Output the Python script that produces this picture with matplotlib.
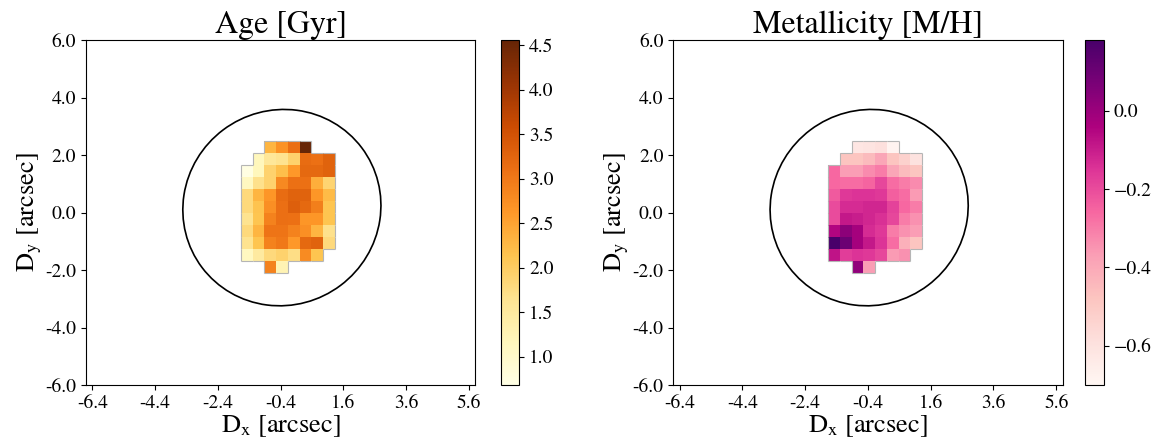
import numpy as np
import matplotlib
matplotlib.use('Agg')
import matplotlib.pyplot as plt
from matplotlib.patches import Ellipse
from matplotlib.collections import LineCollection

plt.rcParams['font.family'] = 'STIXGeneral'
plt.rcParams['mathtext.fontset'] = 'stix'

nan = np.nan

# age map [Gyr], rows from top to bottom
age = np.array([
    [nan, nan, 2.31, 2.70, 3.12, 4.56, nan, nan],
    [nan, 1.18, 1.57, 1.65, 1.92, 3.16, 3.09, 3.28],
    [0.72, 1.18, 1.92, 2.19, 2.62, 3.20, 3.20, 3.28],
    [1.11, 1.69, 1.92, 2.81, 3.09, 3.09, 2.39, 1.88],
    [1.81, 2.31, 2.66, 3.16, 3.28, 3.28, 2.66, 2.23],
    [1.81, 2.15, 2.74, 3.12, 3.32, 3.20, 2.93, 2.12],
    [1.65, 2.12, 2.89, 3.12, 3.09, 2.66, 2.66, 2.12],
    [1.81, 2.31, 3.05, 3.05, 2.89, 2.74, 2.31, 1.69],
    [1.65, 2.12, 2.89, 3.01, 2.62, 3.20, 3.28, 1.81],
    [1.11, 1.49, 1.81, 1.92, 1.73, 2.78, 2.12, nan],
    [nan, nan, 2.89, 1.26, nan, nan, nan, nan],
])

# metallicity map [M/H]
met = np.array([
    [nan, nan, -0.62, -0.61, -0.59, -0.68, nan, nan],
    [nan, -0.48, -0.48, -0.45, -0.39, -0.48, -0.53, -0.60],
    [-0.26, -0.37, -0.37, -0.33, -0.30, -0.39, -0.45, -0.48],
    [-0.26, -0.27, -0.27, -0.25, -0.19, -0.27, -0.30, -0.33],
    [-0.23, -0.16, -0.15, -0.15, -0.16, -0.24, -0.27, -0.36],
    [-0.20, -0.13, -0.13, -0.12, -0.12, -0.18, -0.26, -0.30],
    [-0.20, -0.09, -0.10, -0.12, -0.14, -0.19, -0.30, -0.34],
    [-0.05, 0.03, -0.02, -0.13, -0.16, -0.30, -0.34, -0.37],
    [0.18, 0.10, -0.02, -0.09, -0.15, -0.27, -0.42, -0.48],
    [-0.08, -0.17, -0.15, -0.16, -0.19, -0.36, -0.34, nan],
    [nan, nan, 0.02, -0.37, nan, nan, nan, nan],
])

age_ticks = [1.0, 1.5, 2.0, 2.5, 3.0, 3.5, 4.0, 4.5]
met_ticks = [-0.6, -0.4, -0.2, 0.0]
xticks = [-6.4, -4.4, -2.4, -0.4, 1.6, 3.6, 5.6]
yticks = [-6.0, -4.0, -2.0, 0.0, 2.0, 4.0, 6.0]

# spaxel grid and aperture
x0, dx = -1.66, 0.373
ytop, dy = 2.48, 0.416
xe = x0 + dx * np.arange(age.shape[1] + 1)
ye = ytop - dy * np.arange(age.shape[0] + 1)


def outline(mask):
    segs = []
    ny, nx = mask.shape
    for i in range(ny):
        for j in range(nx):
            if not mask[i, j]:
                continue
            if i == 0 or not mask[i - 1, j]:
                segs.append([(xe[j], ye[i]), (xe[j + 1], ye[i])])
            if i == ny - 1 or not mask[i + 1, j]:
                segs.append([(xe[j], ye[i + 1]), (xe[j + 1], ye[i + 1])])
            if j == 0 or not mask[i, j - 1]:
                segs.append([(xe[j], ye[i]), (xe[j], ye[i + 1])])
            if j == nx - 1 or not mask[i, j + 1]:
                segs.append([(xe[j + 1], ye[i]), (xe[j + 1], ye[i + 1])])
    return segs


fig = plt.figure(figsize=(11.62, 4.48), dpi=100)

panels = [
    (age, 'YlOrBr', 0.68, 4.56, age_ticks, 'Age [Gyr]', 0.0740, 0.4309),
    (met, 'RdPu', -0.70, 0.18, met_ticks, 'Metallicity [M/H]', 0.5794, 0.9337),
]

for data, cmap, vmin, vmax, cticks, title, axl, cbl in panels:
    ax = fig.add_axes([axl, 0.1406, 0.3350, 0.7701])
    cax = fig.add_axes([cbl, 0.1406, 0.0160, 0.7701])
    mesh = ax.pcolormesh(xe, ye, np.ma.masked_invalid(data), cmap=cmap,
                         vmin=vmin, vmax=vmax, shading='flat')
    ax.add_collection(LineCollection(outline(~np.isnan(data)),
                                     colors='#b5b5b5', linewidths=0.8))
    ax.add_patch(Ellipse((-0.36, 0.17), 6.3, 6.84, angle=-8, fill=False,
                         ec='black', lw=1.2))
    ax.set_xlim(-6.6, 5.8)
    ax.set_ylim(-6.0, 6.0)
    ax.set_xticks(xticks)
    ax.set_xticklabels([f'{t:.1f}' for t in xticks])
    ax.set_yticks(yticks)
    ax.set_yticklabels([f'{t:.1f}' for t in yticks])
    ax.tick_params(labelsize=14)
    ax.set_xlabel(r'D$_{\rm x}$ [arcsec]', fontsize=19, labelpad=1)
    ax.set_ylabel(r'D$_{\rm y}$ [arcsec]', fontsize=19, labelpad=1)
    ax.set_title(title, fontsize=23, pad=5)
    cb = fig.colorbar(mesh, cax=cax, ticks=cticks)
    cb.ax.tick_params(labelsize=14)

plt.savefig('out.png', dpi=100)
